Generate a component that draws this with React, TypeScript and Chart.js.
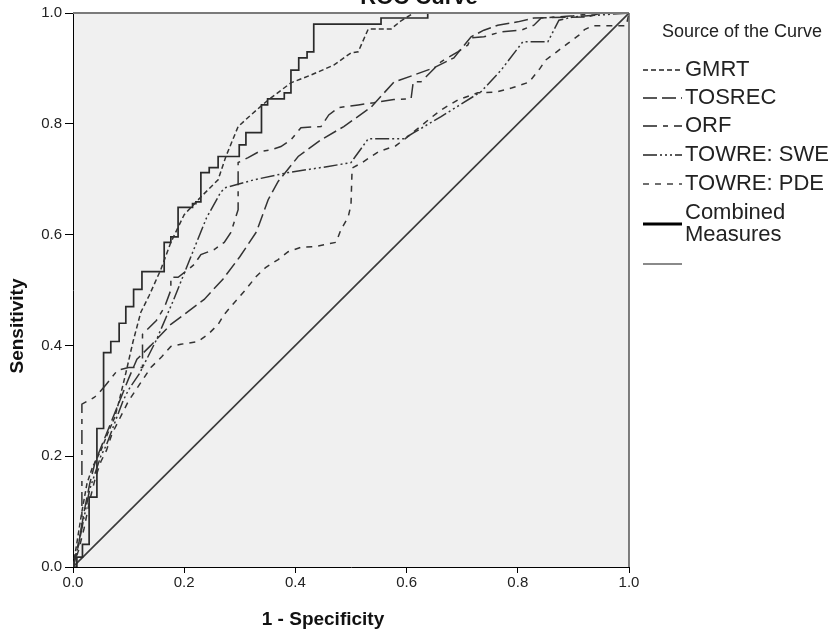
import React, { useEffect, useRef } from 'react';
import { Chart, registerables } from 'chart.js';

Chart.register(...registerables);

const FONT = '"Liberation Sans", Arial, Helvetica, sans-serif';

// ---------- data ----------
const chartTitle = 'ROC Curve';
const legendTitle = 'Source of the Curve';
const xAxisTitle = '1 - Specificity';
const yAxisTitle = 'Sensitivity';
const tickValues = [0, 0.2, 0.4, 0.6, 0.8, 1.0];
const seriesLabels = ['GMRT', 'TOSREC', 'ORF', 'TOWRE: SWE', 'TOWRE: PDE', 'Combined Measures'];

// each point: [1 - specificity, sensitivity]
const gmrtCurve: [number, number][] = [
  [0, 0], [0.008, 0.05], [0.016, 0.1], [0.025, 0.15], [0.035, 0.18], [0.05, 0.21], [0.062, 0.24],
  [0.075, 0.27], [0.083, 0.3], [0.095, 0.35], [0.108, 0.407], [0.122, 0.46], [0.137, 0.49],
  [0.158, 0.537], [0.176, 0.586], [0.2, 0.636], [0.23, 0.668], [0.261, 0.699], [0.275, 0.741],
  [0.297, 0.795], [0.32, 0.816], [0.351, 0.843], [0.392, 0.874], [0.428, 0.888], [0.469, 0.906],
  [0.5, 0.928], [0.513, 0.93], [0.531, 0.971], [0.572, 0.971], [0.59, 0.986], [0.613, 1], [1, 1],
];

const tosrecCurve: [number, number][] = [
  [0, 0], [0.01, 0.04], [0.02, 0.1], [0.03, 0.15], [0.04, 0.19], [0.06, 0.24], [0.08, 0.29],
  [0.1, 0.34], [0.115, 0.375], [0.14, 0.4], [0.176, 0.438], [0.236, 0.483], [0.27, 0.52],
  [0.3, 0.56], [0.33, 0.605], [0.351, 0.663], [0.369, 0.696], [0.405, 0.741], [0.446, 0.771],
  [0.487, 0.795], [0.536, 0.83], [0.577, 0.875], [0.613, 0.888], [0.649, 0.901], [0.685, 0.919],
  [0.716, 0.957], [0.739, 0.969], [0.764, 0.978], [0.8, 0.984], [0.829, 0.991], [0.926, 0.993],
  [0.95, 1], [1, 1],
];

const orfCurve: [number, number][] = [
  [0, 0], [0.005, 0.02], [0.016, 0.074], [0.016, 0.294], [0.038, 0.306], [0.045, 0.312],
  [0.06, 0.33], [0.08, 0.355], [0.1, 0.36], [0.125, 0.36], [0.125, 0.42], [0.15, 0.445],
  [0.165, 0.47], [0.176, 0.5], [0.176, 0.523], [0.189, 0.523], [0.207, 0.537], [0.218, 0.546],
  [0.23, 0.564], [0.254, 0.573], [0.272, 0.586], [0.284, 0.604], [0.297, 0.645], [0.297, 0.73],
  [0.315, 0.739], [0.335, 0.75], [0.356, 0.753], [0.374, 0.759], [0.392, 0.771], [0.41, 0.793],
  [0.446, 0.795], [0.46, 0.816], [0.477, 0.829], [0.513, 0.834], [0.541, 0.838], [0.577, 0.844],
  [0.608, 0.845], [0.612, 0.876], [0.626, 0.876], [0.635, 0.885], [0.662, 0.912], [0.692, 0.93],
  [0.71, 0.942], [0.716, 0.955], [0.739, 0.957], [0.77, 0.966], [0.806, 0.969], [0.829, 0.978],
  [0.842, 0.991], [0.9, 0.995], [0.95, 1], [1, 1],
];

const sweCurve: [number, number][] = [
  [0, 0], [0.01, 0.04], [0.02, 0.09], [0.03, 0.14], [0.04, 0.17], [0.05, 0.2], [0.06, 0.22],
  [0.075, 0.26], [0.09, 0.3], [0.1, 0.32], [0.12, 0.35], [0.15, 0.41], [0.18, 0.48], [0.2, 0.53],
  [0.22, 0.58], [0.24, 0.63], [0.266, 0.677], [0.275, 0.685], [0.326, 0.699], [0.387, 0.712],
  [0.459, 0.723], [0.5, 0.73], [0.531, 0.773], [0.595, 0.773], [0.613, 0.784], [0.662, 0.813],
  [0.734, 0.858], [0.77, 0.897], [0.809, 0.948], [0.854, 0.948], [0.874, 0.987], [0.9, 0.993],
  [1, 1],
];

const pdeCurve: [number, number][] = [
  [0, 0], [0.01, 0.03], [0.02, 0.07], [0.03, 0.12], [0.04, 0.16], [0.05, 0.19], [0.06, 0.21],
  [0.07, 0.24], [0.08, 0.26], [0.09, 0.28], [0.1, 0.3], [0.12, 0.33], [0.14, 0.36], [0.16, 0.38],
  [0.176, 0.398], [0.194, 0.402], [0.225, 0.407], [0.243, 0.42], [0.261, 0.438], [0.272, 0.456],
  [0.29, 0.477], [0.31, 0.5], [0.33, 0.525], [0.347, 0.541], [0.369, 0.555], [0.387, 0.569],
  [0.41, 0.577], [0.433, 0.578], [0.473, 0.586], [0.482, 0.609], [0.495, 0.632], [0.5, 0.654],
  [0.502, 0.72], [0.52, 0.73], [0.55, 0.75], [0.58, 0.76], [0.6, 0.775], [0.644, 0.811],
  [0.662, 0.825], [0.692, 0.843], [0.728, 0.856], [0.76, 0.857], [0.79, 0.865], [0.82, 0.875],
  [0.84, 0.9], [0.85, 0.915], [0.87, 0.93], [0.89, 0.945], [0.91, 0.96], [0.92, 0.97],
  [0.935, 0.977], [0.995, 0.977], [1, 1],
];

const combinedCurve: [number, number][] = [
  [0, 0], [0.007, 0], [0.007, 0.018], [0.017, 0.018], [0.017, 0.041], [0.029, 0.041],
  [0.029, 0.126], [0.043, 0.126], [0.043, 0.25], [0.055, 0.25], [0.055, 0.387], [0.068, 0.387],
  [0.068, 0.407], [0.083, 0.407], [0.083, 0.44], [0.095, 0.44], [0.095, 0.47], [0.109, 0.47],
  [0.109, 0.501], [0.124, 0.501], [0.124, 0.533], [0.164, 0.533], [0.164, 0.586], [0.176, 0.586],
  [0.176, 0.596], [0.189, 0.596], [0.189, 0.649], [0.215, 0.649], [0.215, 0.656], [0.221, 0.656],
  [0.221, 0.659], [0.23, 0.659], [0.23, 0.712], [0.245, 0.712], [0.245, 0.721], [0.261, 0.721],
  [0.261, 0.741], [0.299, 0.741], [0.299, 0.762], [0.311, 0.762], [0.311, 0.784], [0.339, 0.784],
  [0.339, 0.834], [0.35, 0.834], [0.35, 0.845], [0.38, 0.845], [0.38, 0.856], [0.392, 0.856],
  [0.392, 0.897], [0.406, 0.897], [0.406, 0.919], [0.421, 0.919], [0.421, 0.93], [0.433, 0.93],
  [0.433, 0.98], [0.554, 0.98], [0.554, 0.991], [0.638, 0.991], [0.638, 1], [1, 1],
];

const referenceLine: [number, number][] = [[0, 0], [1, 1]];

// ---------- styles ----------
const LINE_COLOR = '#333333';
const seriesDash: number[][] = [
  [5, 3],
  [14, 5],
  [14, 6, 5, 6],
  [14, 3, 2, 3, 2, 3, 2, 3],
  [6, 6],
  [],
];

const legendLayout = {
  titleX: 742,
  titleY: 32,
  lineX0: 643,
  lineX1: 682,
  textX: 685,
  rowsY: [70, 98, 126, 155, 184],
  combinedY: [213, 235],
  combinedLineY: 224,
  refLineY: 264,
};

const axisTitleLayout = { xCenter: 323, xTitleY: 620, yTitleX: 18, yCenter: 326 };

const decorPlugin = {
  id: 'spssDecor',
  beforeDraw(chart: any) {
    const { ctx, chartArea } = chart;
    ctx.save();
    ctx.fillStyle = '#f0f0f0';
    ctx.fillRect(chartArea.left, chartArea.top, chartArea.right - chartArea.left, chartArea.bottom - chartArea.top);
    ctx.restore();
  },
  afterDraw(chart: any) {
    const { ctx, chartArea, width } = chart;
    ctx.save();
    // frame (top and right)
    ctx.strokeStyle = '#7a7a7a';
    ctx.lineWidth = 2;
    ctx.beginPath();
    ctx.moveTo(chartArea.left, chartArea.top);
    ctx.lineTo(chartArea.right, chartArea.top);
    ctx.stroke();
    ctx.strokeStyle = '#555';
    ctx.lineWidth = 1.5;
    ctx.beginPath();
    ctx.moveTo(chartArea.right, chartArea.top);
    ctx.lineTo(chartArea.right, chartArea.bottom);
    ctx.stroke();

    // title (cut off at the top as in the original)
    ctx.fillStyle = '#111';
    ctx.font = `bold 22px ${FONT}`;
    ctx.textAlign = 'center';
    ctx.textBaseline = 'alphabetic';
    ctx.fillText(chartTitle, width / 2, 4);

    // axis titles
    const A = axisTitleLayout;
    ctx.font = `bold 19px ${FONT}`;
    ctx.textBaseline = 'middle';
    ctx.fillText(xAxisTitle, A.xCenter, A.xTitleY);
    ctx.save();
    ctx.translate(A.yTitleX, A.yCenter);
    ctx.rotate(-Math.PI / 2);
    ctx.fillText(yAxisTitle, 0, 0);
    ctx.restore();

    // legend
    const L = legendLayout;
    ctx.fillStyle = '#222';
    ctx.font = `18px ${FONT}`;
    ctx.textAlign = 'center';
    ctx.textBaseline = 'middle';
    ctx.fillText(legendTitle, L.titleX, L.titleY);

    ctx.font = `22px ${FONT}`;
    ctx.textAlign = 'left';
    const drawSample = (y: number, dash: number[], color: string, w: number) => {
      ctx.save();
      ctx.strokeStyle = color;
      ctx.lineWidth = w;
      ctx.setLineDash(dash);
      ctx.beginPath();
      ctx.moveTo(L.lineX0, y);
      ctx.lineTo(L.lineX1, y);
      ctx.stroke();
      ctx.restore();
    };
    for (let i = 0; i < 5; i++) {
      drawSample(L.rowsY[i], seriesDash[i], '#222', 1.3);
      ctx.fillText(seriesLabels[i], L.textX, L.rowsY[i]);
    }
    drawSample(L.combinedLineY, [], '#000', 3);
    const words = seriesLabels[5].split(' ');
    ctx.fillText(words[0], L.textX, L.combinedY[0]);
    ctx.fillText(words.slice(1).join(' '), L.textX, L.combinedY[1]);
    drawSample(L.refLineY, [], '#8a8a8a', 2);
    ctx.restore();
  },
};

export default function App() {
  const ref = useRef<HTMLCanvasElement>(null);

  useEffect(() => {
    const canvas = ref.current;
    if (!canvas) return;
    const toPts = (arr: [number, number][]) => arr.map(([x, y]) => ({ x, y }));
    const curves = [gmrtCurve, tosrecCurve, orfCurve, sweCurve, pdeCurve, combinedCurve];

    const datasets: any[] = curves.map((c, i) => ({
      label: seriesLabels[i],
      data: toPts(c),
      borderColor: i === 5 ? '#2a2a2a' : LINE_COLOR,
      borderWidth: i === 5 ? 1.7 : 1.5,
      borderDash: seriesDash[i],
      pointRadius: 0,
      fill: false,
      tension: 0,
    }));
    datasets.push({
      label: 'Reference Line',
      data: toPts(referenceLine),
      borderColor: '#3a3a3a',
      borderWidth: 1.6,
      pointRadius: 0,
      fill: false,
      tension: 0,
    });

    const tickFont = { family: FONT, size: 15 };

    const chart = new Chart(canvas, {
      type: 'line',
      data: { datasets },
      options: {
        responsive: false,
        animation: false,
        devicePixelRatio: 1,
        parsing: false as any,
        layout: { padding: { top: 13, right: 209, bottom: 0, left: 0 } },
        plugins: {
          legend: { display: false },
          tooltip: { enabled: false },
          title: { display: false },
        },
        scales: {
          x: {
            type: 'linear',
            min: 0,
            max: 1,
            afterFit: (s: any) => { s.height = 74; },
            afterBuildTicks: (s: any) => { s.ticks = tickValues.map((v) => ({ value: v })); },
            ticks: {
              callback: (v: any) => Number(v).toFixed(1),
              font: tickFont,
              color: '#222',
              padding: 1,
              maxRotation: 0,
              autoSkip: false,
            },
            grid: { drawOnChartArea: false, drawTicks: true, tickLength: 6, color: '#000' },
            border: { display: true, color: '#000', width: 1 },
            title: { display: false },
          },
          y: {
            type: 'linear',
            min: 0,
            max: 1,
            afterFit: (s: any) => { s.width = 73; },
            afterBuildTicks: (s: any) => { s.ticks = tickValues.map((v) => ({ value: v })); },
            ticks: {
              callback: (v: any) => Number(v).toFixed(1),
              font: tickFont,
              color: '#222',
              padding: 3,
              autoSkip: false,
            },
            grid: { drawOnChartArea: false, drawTicks: true, tickLength: 8, color: '#000' },
            border: { display: true, color: '#000', width: 1 },
            title: { display: false },
          },
        },
      },
      plugins: [decorPlugin],
    });
    return () => chart.destroy();
  }, []);

  return (
    <div style={{ position: 'absolute', left: 0, top: 0, width: 838, height: 641, background: '#fff' }}>
      <canvas ref={ref} width={838} height={641} style={{ display: 'block', width: 838, height: 641 }} />
    </div>
  );
}
